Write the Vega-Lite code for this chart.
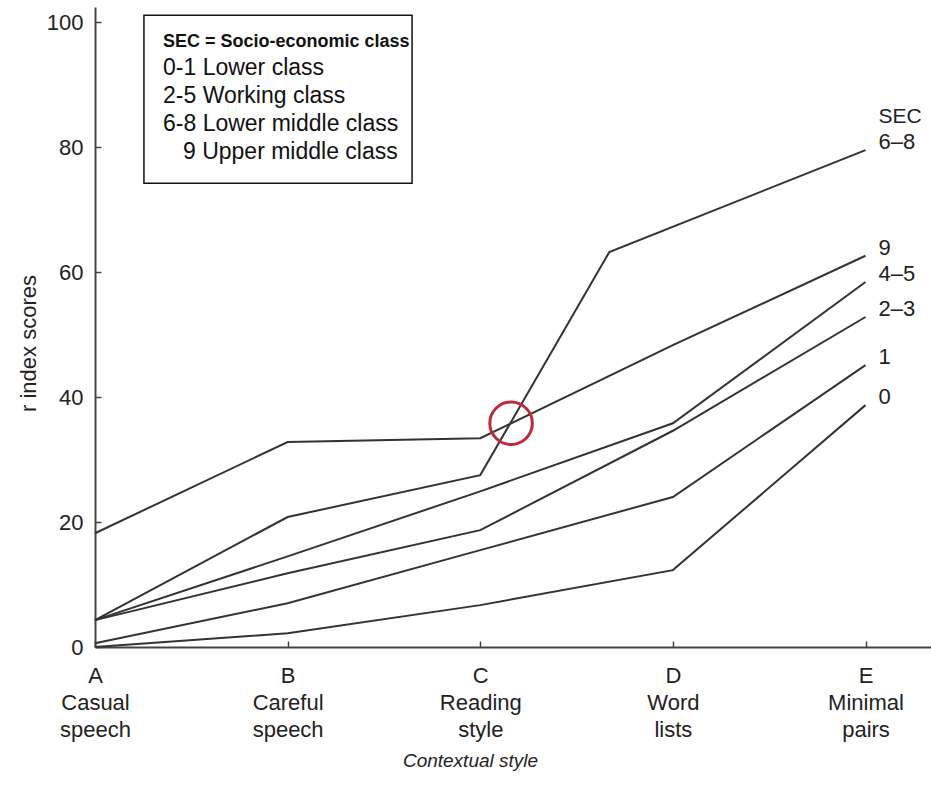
{
  "$schema": "https://vega.github.io/schema/vega-lite/v6.json",
  "width": 836,
  "height": 640,
  "autosize": {"type": "none"},
  "padding": {"left": 95, "top": 7, "right": 0, "bottom": 148},
  "background": "white",
  "config": {"view": {"stroke": null}, "font": "Liberation Sans"},
  "datasets": {
    "scores": [
      {"SEC": "0", "style": 0, "r": 0},
      {"SEC": "0", "style": 1, "r": 2.2},
      {"SEC": "0", "style": 2, "r": 6.7},
      {"SEC": "0", "style": 3, "r": 12.3},
      {"SEC": "0", "style": 4, "r": 38.7},
      {"SEC": "1", "style": 0, "r": 0.6},
      {"SEC": "1", "style": 1, "r": 7.0},
      {"SEC": "1", "style": 2, "r": 15.5},
      {"SEC": "1", "style": 3, "r": 24.0},
      {"SEC": "1", "style": 4, "r": 45.1},
      {"SEC": "2–3", "style": 0, "r": 4.3},
      {"SEC": "2–3", "style": 1, "r": 11.8},
      {"SEC": "2–3", "style": 2, "r": 18.7},
      {"SEC": "2–3", "style": 3, "r": 34.6},
      {"SEC": "2–3", "style": 4, "r": 52.8},
      {"SEC": "4–5", "style": 0, "r": 4.3},
      {"SEC": "4–5", "style": 1, "r": 14.5},
      {"SEC": "4–5", "style": 2, "r": 24.9},
      {"SEC": "4–5", "style": 3, "r": 35.8},
      {"SEC": "4–5", "style": 4, "r": 58.4},
      {"SEC": "6–8", "style": 0, "r": 4.3},
      {"SEC": "6–8", "style": 1, "r": 20.8},
      {"SEC": "6–8", "style": 2, "r": 27.5},
      {"SEC": "6–8", "style": 2.67, "r": 63.2},
      {"SEC": "6–8", "style": 4, "r": 79.5},
      {"SEC": "9", "style": 0, "r": 18.2},
      {"SEC": "9", "style": 1, "r": 32.8},
      {"SEC": "9", "style": 2, "r": 33.4},
      {"SEC": "9", "style": 3, "r": 48.3},
      {"SEC": "9", "style": 4, "r": 62.6}
    ],
    "one": [{"k": 1}]
  },
  "layer": [
    {
      "data": {"name": "one"},
      "mark": {"type": "rect", "fill": "white", "stroke": "#111", "strokeWidth": 1.5},
      "encoding": {
        "x": {"datum": 0.254, "type": "quantitative", "scale": {"domain": [0, 4.34]}},
        "x2": {"datum": 1.646},
        "y": {"datum": 101.1, "type": "quantitative", "scale": {"domain": [0, 102.4]}},
        "y2": {"datum": 74.2}
      }
    },
    {
      "data": {"name": "scores"},
      "mark": {"type": "line", "color": "#333", "strokeWidth": 2},
      "encoding": {
        "x": {
          "field": "style",
          "type": "quantitative",
          "scale": {"domain": [0, 4.34], "nice": false, "zero": false},
          "axis": {
            "title": "Contextual style",
            "values": [0, 1, 2, 3, 4],
            "labelExpr": "datum.value == 0 ? ['A','Casual','speech'] : datum.value == 1 ? ['B','Careful','speech'] : datum.value == 2 ? ['C','Reading','style'] : datum.value == 3 ? ['D','Word','lists'] : ['E','Minimal','pairs']",
            "grid": false,
            "labelFlush": false,
            "labelOverlap": false,
            "labelBound": false,
            "domainColor": "#444",
            "domainWidth": 2,
            "tickColor": "#444",
            "tickWidth": 1.5,
            "tickSize": -6,
            "labelPadding": 24,
            "labelFontSize": 22,
            "labelLineHeight": 27,
            "labelColor": "#222",
            "labelBaseline": "top",
            "titleFontSize": 19,
            "titleFontStyle": "italic",
            "titleFontWeight": "normal",
            "titleColor": "#222",
            "titleX": 375,
            "titleY": 113,
            "titleBaseline": "middle"
          }
        },
        "y": {
          "field": "r",
          "type": "quantitative",
          "scale": {"domain": [0, 102.4], "nice": false},
          "axis": {
            "title": "r index scores",
            "values": [0, 20, 40, 60, 80, 100],
            "grid": false,
            "domainColor": "#444",
            "domainWidth": 2,
            "tickColor": "#444",
            "tickWidth": 1.5,
            "tickSize": -6,
            "labelPadding": 18,
            "labelFontSize": 22,
            "labelColor": "#222",
            "titleFontSize": 22,
            "titleFontWeight": "normal",
            "titleColor": "#222",
            "titleX": -67,
            "titleY": 336,
            "titleAlign": "center",
            "titleBaseline": "middle"
          }
        },
        "detail": {"field": "SEC"},
        "order": {"field": "style", "type": "quantitative"}
      }
    },
    {
      "data": {"name": "scores"},
      "transform": [{"filter": "datum.style == 4"}],
      "mark": {"type": "text", "align": "left", "baseline": "middle", "dx": 13, "dy": -8, "fontSize": 22, "color": "#222"},
      "encoding": {
        "x": {"field": "style", "type": "quantitative"},
        "y": {"field": "r", "type": "quantitative"},
        "text": {"field": "SEC"}
      }
    },
    {
      "data": {"name": "one"},
      "mark": {"type": "text", "align": "left", "baseline": "middle", "dx": 13, "dy": -33, "fontSize": 21, "color": "#222"},
      "encoding": {
        "x": {"datum": 4, "type": "quantitative"},
        "y": {"datum": 79.5, "type": "quantitative"},
        "text": {"value": "SEC"}
      }
    },
    {
      "data": {"name": "one"},
      "mark": {"type": "text", "align": "left", "baseline": "middle", "fontSize": 18, "fontWeight": "bold", "color": "#111"},
      "encoding": {
        "x": {"datum": 0.353, "type": "quantitative"},
        "y": {"datum": 96.8, "type": "quantitative"},
        "text": {"value": "SEC = Socio-economic class"}
      }
    },
    {
      "data": {"name": "one"},
      "mark": {"type": "text", "align": "left", "baseline": "middle", "fontSize": 23, "lineHeight": 28, "color": "#111"},
      "encoding": {
        "x": {"datum": 0.353, "type": "quantitative"},
        "y": {"datum": 92.6, "type": "quantitative"},
        "text": {"value": ["0-1 Lower class", "2-5 Working class", "6-8 Lower middle class"]}
      }
    },
    {
      "data": {"name": "one"},
      "mark": {"type": "text", "align": "left", "baseline": "middle", "dx": 20, "fontSize": 23, "color": "#111"},
      "encoding": {
        "x": {"datum": 0.353, "type": "quantitative"},
        "y": {"datum": 79.2, "type": "quantitative"},
        "text": {"value": "9 Upper middle class"}
      }
    },
    {
      "data": {"name": "one"},
      "mark": {"type": "point", "shape": "circle", "filled": false, "stroke": "#c0283c", "strokeWidth": 3, "size": 1810, "opacity": 1},
      "encoding": {
        "x": {"datum": 2.16, "type": "quantitative"},
        "y": {"datum": 35.8, "type": "quantitative"}
      }
    }
  ]
}
